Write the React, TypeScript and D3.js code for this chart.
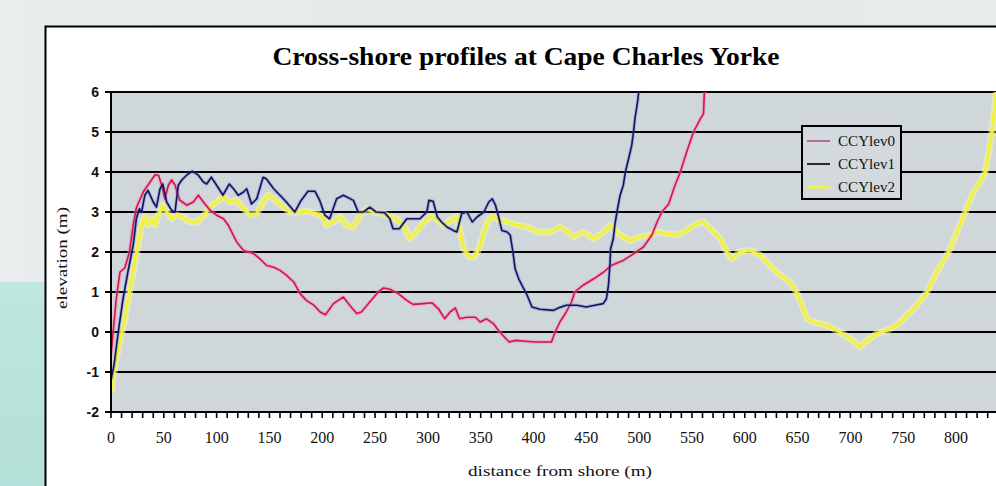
import React from "react";
import * as d3 from "d3";

const title = "Cross-shore profiles at Cape Charles Yorke";
const xTitle = "distance from shore (m)";
const yTitle = "elevation (m)";
const seriesNames = ["CCYlev0", "CCYlev1", "CCYlev2"];
const xTickLabels = [0, 50, 100, 150, 200, 250, 300, 350, 400, 450, 500, 550, 600, 650, 700, 750, 800];
const yTickLabels = [-2, -1, 0, 1, 2, 3, 4, 5, 6];

const profile0: [number, number][] = [
  [0, -0.6], [2, 0], [5, 0.83], [8.5, 1.5], [13, 1.6], [17.5, 2.0], [21, 2.67], [24, 3.1], [30.5, 3.5], [37, 3.75],
  [41.7, 3.93], [45, 3.92], [48, 3.67], [51, 3.33], [54.3, 3.67], [57.4, 3.8], [60.6, 3.67], [65, 3.3], [71.6, 3.17],
  [78, 3.25], [82.7, 3.42], [87.5, 3.25], [94, 3.04], [100, 2.92], [106.5, 2.83], [111, 2.67], [119, 2.25], [125.5, 2.04],
  [135, 1.96], [141, 1.83], [147, 1.67], [154, 1.62], [160, 1.54], [166, 1.42], [173, 1.25], [179, 0.96], [185, 0.79],
  [192, 0.67], [198, 0.5], [203, 0.43], [210.6, 0.71], [220, 0.875], [226, 0.67], [232.6, 0.46], [237, 0.5], [245, 0.75],
  [253, 1.0], [258, 1.1], [264, 1.07], [272, 0.96], [280, 0.79], [286, 0.69], [296, 0.71], [304, 0.73], [310, 0.58],
  [316, 0.33], [321, 0.5], [326, 0.6], [330, 0.33], [337, 0.37], [345, 0.37], [349.5, 0.25], [355.5, 0.33], [362, 0.21],
  [368, 0.0], [374, -0.17], [377, -0.25], [383, -0.21], [392.5, -0.23], [402, -0.25], [417, -0.25], [420.5, 0], [425, 0.25],
  [431, 0.5], [436, 0.75], [439, 1.0], [447, 1.17], [457, 1.33], [466.5, 1.5], [474, 1.67], [485, 1.79], [495, 1.96],
  [504, 2.125], [512, 2.42], [517, 2.75], [521.5, 3.0], [528, 3.2], [534, 3.67], [539, 4.0], [545, 4.5], [551.5, 5.0],
  [558, 5.33], [561, 5.46], [562, 6.2],
];

const profile1: [number, number][] = [
  [0, -1.2], [3, -0.8], [6.9, 0], [11.4, 0.83], [16, 1.5], [21, 2.17], [24, 2.83], [26.8, 3.08], [29, 3.0], [32, 3.42],
  [35, 3.54], [40, 3.25], [43, 3.12], [46.4, 3.58], [49, 3.7], [52.7, 3.25], [57.4, 3.04], [60.6, 3.0], [63.7, 3.67],
  [67, 3.8], [71.6, 3.92], [77, 4.02], [82.7, 3.92], [87.4, 3.75], [90.6, 3.7], [95, 3.87], [100, 3.67], [106, 3.42],
  [112, 3.7], [116, 3.58], [120.5, 3.42], [125.5, 3.5], [128.5, 3.58], [133, 3.2], [138, 3.33], [144, 3.87], [147, 3.83],
  [154, 3.58], [160, 3.42], [166, 3.25], [174, 3.0], [180, 3.29], [186.5, 3.52], [193, 3.52], [197.6, 3.29], [202.5, 2.92],
  [207, 2.83], [213.6, 3.33], [220, 3.42], [229.5, 3.29], [234, 3.0], [239, 3.0], [245, 3.12], [251, 3.0], [259, 2.98],
  [264, 2.83], [267, 2.58], [273, 2.58], [280, 2.83], [286, 2.83], [292.5, 2.83], [299, 3.0], [301, 3.29], [305, 3.27],
  [309, 2.875], [313, 2.75], [318, 2.625], [324, 2.54], [327.5, 2.5], [332, 2.96], [337, 3.0], [342, 2.75], [346.6, 2.875],
  [353, 3.0], [357.7, 3.25], [361, 3.33], [364, 3.17], [367, 2.875], [370, 2.54], [375, 2.5], [378, 2.42], [380.5, 2.0],
  [382.6, 1.58], [386, 1.33], [389, 1.17], [394, 0.92], [398.5, 0.625], [406, 0.57], [419, 0.54], [423.5, 0.6], [431, 0.67],
  [441, 0.67], [450, 0.625], [458, 0.67], [466, 0.71], [469, 0.83], [471, 1.17], [472.5, 1.75], [473, 2.08], [475.5, 2.33],
  [477, 2.67], [479, 3.0], [482, 3.42], [485, 3.67], [487, 4.0], [490, 4.33], [493, 4.67], [494.7, 5.0], [496, 5.33],
  [498.5, 5.75], [500.5, 6.2],
];

const profile2: [number, number][] = [
  [0, -1.5], [4, -0.8], [8, -0.3], [13, 0.33], [17.5, 1.0], [22, 1.67], [25.6, 2.17], [29, 2.67], [32, 2.875], [35, 2.67],
  [38.5, 2.83], [41.7, 2.67], [45, 2.92], [49, 3.17], [52.7, 3.0], [57.4, 2.83], [62, 2.92], [68, 2.875], [74, 2.75],
  [81, 2.75], [87, 2.875], [93.7, 3.125], [100, 3.25], [106, 3.375], [112.6, 3.25], [119, 3.29], [125.5, 3.08], [132, 2.92],
  [138, 2.96], [144, 3.25], [149, 3.42], [154, 3.33], [161.5, 3.17], [169, 3.0], [179, 3.0], [185.6, 3.02], [195, 2.96],
  [201.5, 2.83], [204, 2.67], [210.6, 2.75], [217, 2.875], [223, 2.67], [229.5, 2.625], [236, 2.92], [242, 3.08],
  [248.5, 3.0], [258, 2.96], [264, 2.875], [270, 2.83], [278, 2.625], [283, 2.33], [289, 2.5], [296, 2.75], [302, 2.875],
  [308.5, 2.83], [315, 2.67], [321, 2.79], [327.5, 2.875], [330.5, 2.5], [334, 2.08], [339, 1.875], [343.5, 1.875],
  [348.5, 2.08], [353, 2.5], [358, 2.83], [362.6, 2.875], [369, 2.79], [375, 2.75], [385, 2.67], [394, 2.625], [404, 2.5],
  [416, 2.5], [425, 2.625], [431, 2.54], [437.8, 2.375], [447, 2.5], [457, 2.33], [466.5, 2.5], [472.5, 2.67], [482, 2.42],
  [491, 2.29], [501, 2.375], [511, 2.42], [517, 2.5], [526, 2.46], [535.6, 2.42], [545, 2.54], [555, 2.71], [561, 2.75],
  [567.5, 2.58], [577, 2.33], [583, 2.0], [588, 1.83], [595.5, 2.0], [605, 2.04], [614.6, 1.92], [624, 1.67], [633.5, 1.42],
  [643, 1.25], [649, 1.0], [654, 0.67], [659, 0.33], [665, 0.25], [677.6, 0.17], [690, 0.0], [700, -0.17], [709, -0.375],
  [715.6, -0.21], [725, -0.04], [734.5, 0.04], [744, 0.17], [753.5, 0.42], [763, 0.67], [772.5, 1.0], [782, 1.5], [793, 2.0],
  [801, 2.5], [810, 3.08], [816.6, 3.5], [824.5, 3.83], [827.7, 4.0], [831, 4.5], [834, 5.0], [837, 5.67], [839, 6.2],
];

const W = 996;
const H = 486;
const plotLeft = 111;
const plotTop = 92;
const plotBottom = 412;
const plotRight = 1010;

const x = d3.scaleLinear().domain([0, 850]).range([plotLeft, plotLeft + 850 * 1.05625]);
const y = d3.scaleLinear().domain([-2, 6]).range([plotBottom, plotTop]);
const line = d3
  .line<[number, number]>()
  .x((d) => x(d[0]))
  .y((d) => y(d[1]))
  .curve(d3.curveLinear);

const minorTicks = d3.range(0, 851, 10);

const serif = "'Liberation Serif', 'DejaVu Serif', serif";
const sans = "'Liberation Sans', Arial, sans-serif";

const styles = [
  { color: "#d4134a", halo: "#f28cb0", width: 1.6, haloW: 4, haloOp: 0.45, legend: "#b0508c" },
  { color: "#14145a", halo: "#5c6cd8", width: 1.6, haloW: 3.5, haloOp: 0.35, legend: "#000000" },
  { color: "#f2f23a", halo: "#f6f6a8", width: 3, haloW: 7, haloOp: 0.55, legend: "#f2f23a" },
];

export default function App() {
  const series = [profile0, profile1, profile2];
  const order = [2, 0, 1];
  return (
    <svg
      width={W}
      height={H}
      style={{ position: "absolute", left: 0, top: 0, display: "block" }}
      xmlns="http://www.w3.org/2000/svg"
    >
      <defs>
        <linearGradient id="bgTop" x1="0" y1="0" x2="1" y2="0">
          <stop offset="0" stopColor="#e9eded" />
          <stop offset="0.5" stopColor="#e4e9e9" />
          <stop offset="1" stopColor="#e7ebeb" />
        </linearGradient>
        <linearGradient id="bgTeal" x1="0" y1="0" x2="0" y2="1">
          <stop offset="0" stopColor="#bfe6df" />
          <stop offset="1" stopColor="#b3e0d8" />
        </linearGradient>
        <clipPath id="plotClip">
          <rect x={plotLeft} y={plotTop} width={plotRight - plotLeft} height={plotBottom - plotTop} />
        </clipPath>
      </defs>

      <rect x={0} y={0} width={W} height={H} fill="url(#bgTop)" />
      <rect x={0} y={282} width={45} height={H - 282} fill="url(#bgTeal)" />

      <rect x={45.5} y={26.5} width={W} height={H} fill="#ffffff" stroke="#000" strokeWidth={2} />

      <text
        x={526}
        y={65}
        textAnchor="middle"
        fontFamily={serif}
        fontWeight="bold"
        fontSize={25}
        fill="#000"
        textLength={507}
        lengthAdjust="spacingAndGlyphs"
      >
        {title}
      </text>

      <rect x={plotLeft} y={plotTop} width={plotRight - plotLeft} height={plotBottom - plotTop} fill="#cfd7da" />

      {yTickLabels.map((t) => (
        <line key={"g" + t} x1={plotLeft} x2={plotRight} y1={y(t)} y2={y(t)} stroke="#000" strokeWidth={2} />
      ))}

      <g clipPath="url(#plotClip)">
        {order.map((i) => (
          <g key={"s" + i}>
            <path
              d={line(series[i]) || ""}
              fill="none"
              stroke={styles[i].halo}
              strokeOpacity={styles[i].haloOp}
              strokeWidth={styles[i].haloW}
              strokeLinejoin="round"
            />
            <path
              d={line(series[i]) || ""}
              fill="none"
              stroke={styles[i].color}
              strokeWidth={styles[i].width}
              strokeLinejoin="round"
            />
          </g>
        ))}
      </g>

      <line x1={plotLeft} x2={plotLeft} y1={plotTop - 1} y2={plotBottom + 1} stroke="#000" strokeWidth={2} />
      <line x1={plotLeft} x2={plotRight} y1={plotBottom} y2={plotBottom} stroke="#000" strokeWidth={2} />
      {yTickLabels.map((t) => (
        <g key={"yt" + t}>
          <line x1={plotLeft - 6} x2={plotLeft} y1={y(t)} y2={y(t)} stroke="#000" strokeWidth={2} />
          <text
            x={99}
            y={y(t) + 5}
            textAnchor="end"
            fontFamily={sans}
            fontWeight="bold"
            fontSize={14}
            fill="#111"
          >
            {t}
          </text>
        </g>
      ))}
      {minorTicks.map((t) => (
        <line key={"xt" + t} x1={x(t)} x2={x(t)} y1={plotBottom} y2={plotBottom + 6} stroke="#000" strokeWidth={1.6} />
      ))}
      {xTickLabels.map((t) => (
        <text key={"xl" + t} x={x(t)} y={443} textAnchor="middle" fontFamily={serif} fontSize={16} fill="#111">
          {t}
        </text>
      ))}

      <text x={560} y={476} textAnchor="middle" fontFamily={serif} fontSize={15} fill="#111" textLength={184} lengthAdjust="spacingAndGlyphs">
        {xTitle}
      </text>
      <text
        transform={`translate(67, 258) rotate(-90)`}
        textAnchor="middle"
        fontFamily={serif}
        fontSize={15}
        fill="#111"
        textLength={102}
        lengthAdjust="spacingAndGlyphs"
      >
        {yTitle}
      </text>

      <rect x={802} y={126} width={99} height={73} fill="#d3dadd" stroke="#000" strokeWidth={2} />
      {seriesNames.map((name, i) => {
        const ly = 141 + i * 23;
        return (
          <g key={"lg" + i}>
            <line x1={807} x2={830} y1={ly} y2={ly} stroke={styles[i].legend} strokeWidth={i === 2 ? 3 : 1.6} />
            <text
              x={838}
              y={ly + 5}
              fontFamily={serif}
              fontSize={14}
              fill="#111"
              textLength={57}
              lengthAdjust="spacingAndGlyphs"
            >
              {name}
            </text>
          </g>
        );
      })}
    </svg>
  );
}
